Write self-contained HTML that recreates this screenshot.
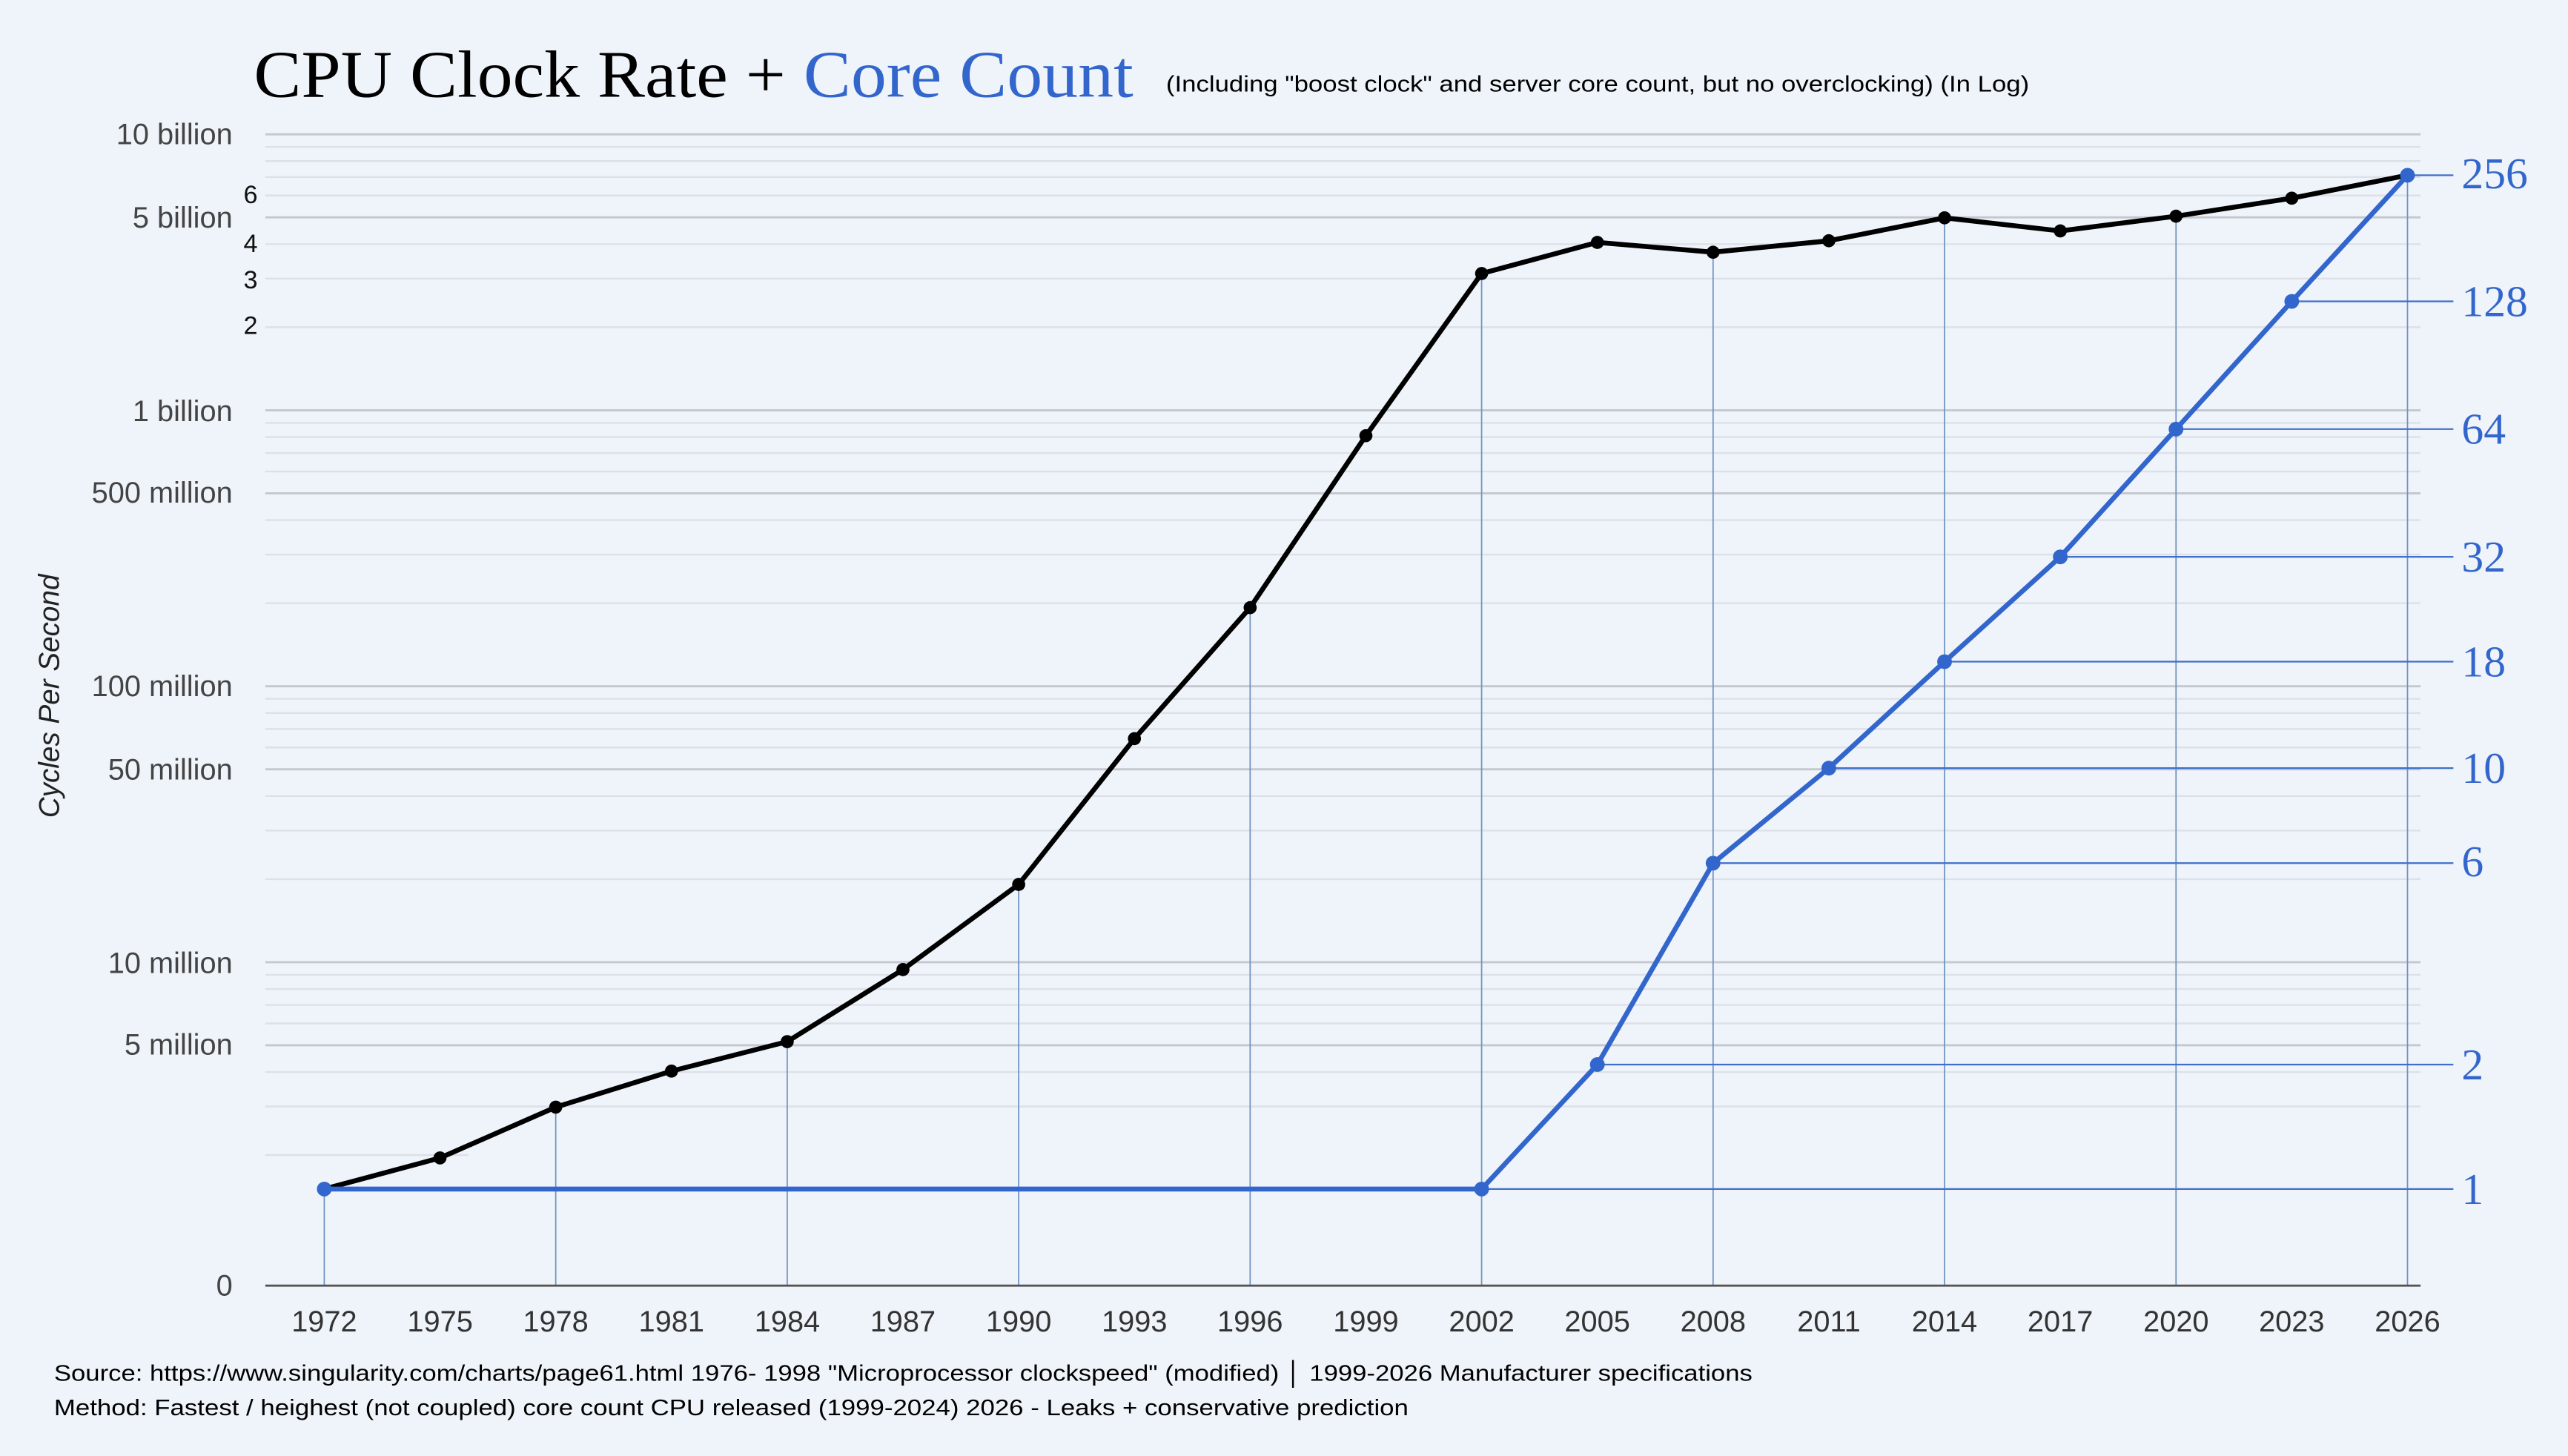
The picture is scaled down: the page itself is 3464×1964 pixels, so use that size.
<!DOCTYPE html>
<html><head><meta charset="utf-8"><style>
html,body{margin:0;padding:0;background:#eff4fa;}
svg{display:block;}
</style></head><body>
<svg id="s" width="3464" height="1964" viewBox="0 0 1568 889" xmlns="http://www.w3.org/2000/svg">
<rect x="0" y="0" width="1568" height="889" fill="#eff4fa"/>
<g id="grid"></g>
<g id="vlines"></g>
<g id="series"></g>
<line x1="162" y1="785" x2="1478" y2="785" stroke="#555" stroke-width="1.3"/>
<g font-family="Liberation Serif, serif" font-size="41">
<text x="155" y="59" textLength="537" lengthAdjust="spacingAndGlyphs"><tspan fill="#000">CPU Clock Rate + </tspan><tspan fill="#3366cc">Core Count</tspan></text>
</g>
<text x="712" y="56" font-family="Liberation Sans, sans-serif" font-size="14" fill="#000" textLength="527" lengthAdjust="spacingAndGlyphs">(Including "boost clock" and server core count, but no overclocking) (In Log)</text>
<g font-family="Liberation Sans, sans-serif" font-size="18" fill="#444" text-anchor="end">
<text x="142" y="88">10 billion</text>
<text x="142" y="139">5 billion</text>
<text x="142" y="257">1 billion</text>
<text x="142" y="307">500 million</text>
<text x="142" y="425">100 million</text>
<text x="142" y="476">50 million</text>
<text x="142" y="594">10 million</text>
<text x="142" y="644">5 million</text>
<text x="142" y="791">0</text>
</g>
<g font-family="Liberation Sans, sans-serif" font-size="15.5" fill="#111" text-anchor="middle">
<text x="153" y="124">6</text>
<text x="153" y="154">4</text>
<text x="153" y="176">3</text>
<text x="153" y="204">2</text>
</g>
<text transform="translate(36,425) rotate(-90)" font-family="Liberation Sans, sans-serif" font-style="italic" font-size="17.5" fill="#222" text-anchor="middle">Cycles Per Second</text>
<g font-family="Liberation Sans, sans-serif" font-size="18" fill="#333" text-anchor="middle" id="years">
<text x="198" y="813">1972</text><text x="268.7" y="813">1975</text><text x="339.3" y="813">1978</text><text x="410" y="813">1981</text><text x="480.7" y="813">1984</text><text x="551.3" y="813">1987</text><text x="622" y="813">1990</text><text x="692.7" y="813">1993</text><text x="763.3" y="813">1996</text><text x="834" y="813">1999</text><text x="904.7" y="813">2002</text><text x="975.3" y="813">2005</text><text x="1046" y="813">2008</text><text x="1116.7" y="813">2011</text><text x="1187.3" y="813">2014</text><text x="1258" y="813">2017</text><text x="1328.7" y="813">2020</text><text x="1399.3" y="813">2023</text><text x="1470" y="813">2026</text>
</g>
<g font-family="Liberation Serif, serif" font-size="27" fill="#3366cc">
<text x="1503" y="115">256</text>
<text x="1503" y="193">128</text>
<text x="1503" y="271">64</text>
<text x="1503" y="349">32</text>
<text x="1503" y="413">18</text>
<text x="1503" y="478">10</text>
<text x="1503" y="535">6</text>
<text x="1503" y="659">2</text>
<text x="1503" y="735">1</text>
</g>
<g font-family="Liberation Sans, sans-serif" font-size="14" fill="#000">
<text x="33" y="843" textLength="1037" lengthAdjust="spacingAndGlyphs">Source: https://www.singularity.com/charts/page61.html 1976- 1998 "Microprocessor clockspeed" (modified) │ 1999-2026 Manufacturer specifications</text>
<text x="33" y="864" textLength="827" lengthAdjust="spacingAndGlyphs">Method: Fastest / heighest (not coupled) core count CPU released (1999-2024)  2026 - Leaks + conservative prediction</text>
</g>
</svg>
<script>
var NS="http://www.w3.org/2000/svg";
function el(p,t,a){var e=document.createElementNS(NS,t);for(var k in a)e.setAttribute(k,a[k]);p.appendChild(e);return e;}
var g=document.getElementById('grid');
var D=168.5;
function yv(v){return 82+(10-Math.log10(v))*D;}
for(var e=6;e<=9;e++){
  for(var m=1;m<=9;m++){
    var v=e+Math.log10(m), y=yv(Math.pow(10,v));
    if(y>720)continue;
    var major=(m==1||m==5);
    var x2=1478;
    if(Math.abs(y-705)<3)x2=286;
    el(g,'line',{x1:162,x2:x2,y1:y,y2:y,stroke:major?'#c4c8ce':'#dde1e7','stroke-width':major?1.3:1.1});
  }
}
el(g,'line',{x1:162,x2:1478,y1:82,y2:82,stroke:'#c4c8ce','stroke-width':1.3});
var xs=[];for(var i=0;i<19;i++)xs.push(198+i*(1272/18));
var blk=[726,707,676,654,636,592,540,451,371,266,167,148,154,147,133,141,132,121,107];
var blu=[726,726,726,726,726,726,726,726,726,726,726,650,527,469,404,340,262,184,107];
var vl=document.getElementById('vlines');
for(var i=0;i<19;i+=2){
  el(vl,'line',{x1:xs[i],x2:xs[i],y1:Math.min(blk[i],blu[i]),y2:785,stroke:'#6f93c4','stroke-width':0.8});
}
var idx=[10,11,12,13,14,15,16,17,18];
for(var j=0;j<idx.length;j++){var i=idx[j];
  el(vl,'line',{x1:xs[i],x2:1498,y1:blu[i],y2:blu[i],stroke:'#3f6fc8','stroke-width':1});}
var s=document.getElementById('series');
function poly(arr,c){var p=arr.map(function(y,i){return xs[i]+','+y}).join(' ');
 el(s,'polyline',{points:p,fill:'none',stroke:c,'stroke-width':3,'stroke-linejoin':'round'});}
poly(blk,'#000');
for(var i=0;i<19;i++)el(s,'circle',{cx:xs[i],cy:blk[i],r:4,fill:'#000'});
poly(blu,'#3366cc');
for(var i=0;i<19;i++){if(i>0&&i<10)continue;el(s,'circle',{cx:xs[i],cy:blu[i],r:4.5,fill:'#3366cc'});}
</script>
</body></html>
